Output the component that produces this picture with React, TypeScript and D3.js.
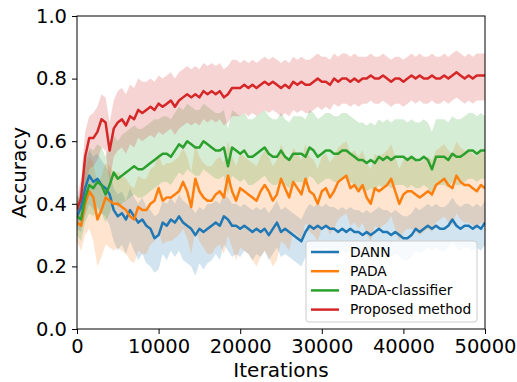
import React, { useEffect, useRef } from 'react'
import * as d3 from 'd3'

// iterations sampled every 500 steps, 0..50000
const iterations: number[] = d3.range(0, 50001, 500)

const seriesNames = ['DANN', 'PADA', 'PADA-classifier', 'Proposed method']
const seriesColors = ['#1f77b4', '#ff7f0e', '#2ca02c', '#d62728']
const xTicks = [0, 10000, 20000, 30000, 40000, 50000]
const yTicks = [0, 0.2, 0.4, 0.6, 0.8, 1.0]

const dannMean = [
  0.36, 0.39, 0.45, 0.49, 0.47, 0.48, 0.46, 0.45, 0.43, 0.38,
  0.36, 0.37, 0.35, 0.38, 0.36, 0.34, 0.35, 0.33, 0.32, 0.29,
  0.30, 0.34, 0.33, 0.35, 0.34, 0.36, 0.34, 0.33, 0.32, 0.30,
  0.32, 0.31, 0.32, 0.33, 0.34, 0.33, 0.36, 0.35, 0.33, 0.33,
  0.32, 0.33, 0.32, 0.31, 0.32, 0.31, 0.32, 0.30, 0.32, 0.34,
  0.31, 0.32, 0.31, 0.30, 0.29, 0.28, 0.31, 0.33, 0.32, 0.33,
  0.32, 0.33, 0.32, 0.32, 0.31, 0.32, 0.31, 0.32, 0.31, 0.31,
  0.30, 0.31, 0.30, 0.31, 0.32, 0.31, 0.31, 0.30, 0.31, 0.30,
  0.29, 0.29, 0.30, 0.32, 0.31, 0.32, 0.33, 0.32, 0.33, 0.32,
  0.32, 0.33, 0.35, 0.33, 0.32, 0.33, 0.33, 0.32, 0.33, 0.32,
  0.34,
]
const dannHi = [
  0.40, 0.46, 0.53, 0.57, 0.55, 0.56, 0.54, 0.52, 0.50, 0.45,
  0.43, 0.44, 0.41, 0.45, 0.42, 0.40, 0.42, 0.39, 0.38, 0.36,
  0.37, 0.41, 0.40, 0.42, 0.40, 0.43, 0.41, 0.40, 0.39, 0.37,
  0.39, 0.38, 0.40, 0.40, 0.41, 0.40, 0.43, 0.42, 0.40, 0.40,
  0.39, 0.40, 0.39, 0.38, 0.39, 0.38, 0.39, 0.37, 0.39, 0.41,
  0.38, 0.39, 0.38, 0.37, 0.36, 0.35, 0.38, 0.40, 0.39, 0.40,
  0.39, 0.40, 0.39, 0.39, 0.38, 0.39, 0.38, 0.39, 0.38, 0.38,
  0.37, 0.38, 0.37, 0.38, 0.39, 0.38, 0.38, 0.37, 0.38, 0.37,
  0.36, 0.36, 0.37, 0.39, 0.38, 0.39, 0.40, 0.39, 0.40, 0.39,
  0.39, 0.40, 0.42, 0.40, 0.39, 0.40, 0.40, 0.39, 0.40, 0.39,
  0.41,
]
const dannLo = [
  0.32, 0.31, 0.36, 0.40, 0.38, 0.39, 0.37, 0.36, 0.33, 0.28,
  0.25, 0.27, 0.24, 0.28, 0.25, 0.22, 0.24, 0.21, 0.20, 0.18,
  0.19, 0.24, 0.22, 0.25, 0.23, 0.25, 0.22, 0.21, 0.20, 0.17,
  0.21, 0.19, 0.21, 0.22, 0.24, 0.22, 0.27, 0.25, 0.23, 0.24,
  0.23, 0.25, 0.24, 0.22, 0.24, 0.23, 0.25, 0.22, 0.24, 0.26,
  0.23, 0.24, 0.23, 0.22, 0.21, 0.20, 0.23, 0.26, 0.25, 0.26,
  0.25, 0.26, 0.25, 0.24, 0.23, 0.25, 0.24, 0.25, 0.24, 0.24,
  0.23, 0.24, 0.23, 0.24, 0.25, 0.24, 0.24, 0.23, 0.24, 0.23,
  0.22, 0.22, 0.23, 0.25, 0.24, 0.25, 0.26, 0.25, 0.26, 0.25,
  0.25, 0.26, 0.28, 0.26, 0.25, 0.26, 0.26, 0.25, 0.26, 0.25,
  0.27,
]

const padaMean = [
  0.34, 0.33, 0.40, 0.44, 0.42, 0.35, 0.38, 0.42, 0.41, 0.40,
  0.40, 0.39, 0.38, 0.36, 0.35, 0.39, 0.38, 0.38, 0.40, 0.41,
  0.45, 0.41, 0.42, 0.42, 0.43, 0.44, 0.47, 0.44, 0.39, 0.48,
  0.44, 0.42, 0.41, 0.41, 0.43, 0.44, 0.42, 0.49, 0.44, 0.41,
  0.45, 0.44, 0.43, 0.42, 0.41, 0.44, 0.46, 0.44, 0.41, 0.43,
  0.48, 0.45, 0.42, 0.47, 0.45, 0.43, 0.48, 0.44, 0.43, 0.40,
  0.44, 0.45, 0.42, 0.44, 0.47, 0.48, 0.49, 0.45, 0.46, 0.44,
  0.46, 0.42, 0.40, 0.45, 0.44, 0.45, 0.46, 0.48, 0.44, 0.40,
  0.43, 0.44, 0.44, 0.43, 0.42, 0.43, 0.44, 0.43, 0.46, 0.47,
  0.48, 0.46, 0.45, 0.49, 0.47, 0.46, 0.46, 0.45, 0.44, 0.46,
  0.45,
]
const padaHi = [
  0.40, 0.42, 0.50, 0.55, 0.53, 0.46, 0.49, 0.53, 0.52, 0.50,
  0.50, 0.49, 0.48, 0.46, 0.45, 0.49, 0.48, 0.48, 0.51, 0.52,
  0.56, 0.52, 0.53, 0.53, 0.54, 0.55, 0.58, 0.55, 0.50, 0.59,
  0.55, 0.53, 0.52, 0.52, 0.54, 0.55, 0.53, 0.60, 0.55, 0.52,
  0.56, 0.55, 0.54, 0.53, 0.52, 0.55, 0.57, 0.55, 0.52, 0.54,
  0.59, 0.56, 0.53, 0.58, 0.56, 0.54, 0.59, 0.55, 0.54, 0.51,
  0.55, 0.56, 0.53, 0.55, 0.58, 0.59, 0.60, 0.56, 0.57, 0.55,
  0.57, 0.53, 0.51, 0.56, 0.55, 0.56, 0.57, 0.59, 0.55, 0.51,
  0.54, 0.55, 0.55, 0.54, 0.53, 0.54, 0.55, 0.54, 0.57, 0.58,
  0.59, 0.57, 0.56, 0.60, 0.58, 0.57, 0.57, 0.56, 0.55, 0.57,
  0.56,
]
const padaLo = [
  0.28, 0.25, 0.30, 0.32, 0.28, 0.20, 0.23, 0.27, 0.26, 0.25,
  0.26, 0.25, 0.24, 0.22, 0.21, 0.25, 0.24, 0.24, 0.27, 0.28,
  0.31, 0.27, 0.28, 0.28, 0.29, 0.30, 0.32, 0.29, 0.24, 0.32,
  0.28, 0.26, 0.24, 0.24, 0.26, 0.27, 0.24, 0.30, 0.26, 0.22,
  0.26, 0.25, 0.24, 0.22, 0.20, 0.23, 0.25, 0.23, 0.20, 0.22,
  0.28, 0.27, 0.25, 0.31, 0.30, 0.28, 0.34, 0.31, 0.30, 0.28,
  0.32, 0.33, 0.30, 0.32, 0.35, 0.36, 0.37, 0.33, 0.34, 0.32,
  0.34, 0.30, 0.28, 0.33, 0.32, 0.33, 0.34, 0.36, 0.32, 0.28,
  0.31, 0.32, 0.32, 0.31, 0.30, 0.31, 0.32, 0.31, 0.34, 0.35,
  0.36, 0.34, 0.33, 0.37, 0.35, 0.34, 0.34, 0.33, 0.32, 0.34,
  0.33,
]

const clsMean = [
  0.36, 0.35, 0.42, 0.46, 0.45, 0.47, 0.46, 0.43, 0.46, 0.50,
  0.48, 0.49, 0.50, 0.51, 0.52, 0.51, 0.51, 0.52, 0.53, 0.54,
  0.55, 0.56, 0.56, 0.55, 0.57, 0.59, 0.58, 0.60, 0.59, 0.58,
  0.58, 0.60, 0.59, 0.58, 0.57, 0.57, 0.58, 0.52, 0.58, 0.57,
  0.56, 0.57, 0.55, 0.55, 0.56, 0.57, 0.58, 0.56, 0.55, 0.55,
  0.57, 0.55, 0.54, 0.56, 0.56, 0.56, 0.55, 0.58, 0.57, 0.55,
  0.56, 0.57, 0.57, 0.56, 0.56, 0.57, 0.57, 0.56, 0.55, 0.54,
  0.54, 0.53, 0.54, 0.53, 0.55, 0.54, 0.55, 0.54, 0.55, 0.55,
  0.55, 0.54, 0.55, 0.54, 0.54, 0.55, 0.54, 0.51, 0.55, 0.55,
  0.55, 0.54, 0.56, 0.55, 0.55, 0.56, 0.57, 0.57, 0.56, 0.57,
  0.57,
]
const clsHi = [
  0.42, 0.43, 0.53, 0.58, 0.57, 0.59, 0.58, 0.55, 0.58, 0.62,
  0.60, 0.62, 0.63, 0.64, 0.65, 0.64, 0.64, 0.65, 0.66, 0.67,
  0.67, 0.68, 0.68, 0.67, 0.69, 0.71, 0.70, 0.72, 0.71, 0.70,
  0.70, 0.72, 0.71, 0.70, 0.69, 0.69, 0.70, 0.64, 0.70, 0.69,
  0.68, 0.69, 0.67, 0.67, 0.68, 0.69, 0.70, 0.68, 0.67, 0.67,
  0.69, 0.67, 0.66, 0.68, 0.68, 0.68, 0.67, 0.70, 0.69, 0.67,
  0.68, 0.69, 0.69, 0.68, 0.68, 0.69, 0.69, 0.68, 0.67, 0.66,
  0.66, 0.65, 0.66, 0.65, 0.67, 0.66, 0.67, 0.66, 0.67, 0.67,
  0.67, 0.66, 0.67, 0.66, 0.66, 0.67, 0.66, 0.63, 0.67, 0.67,
  0.67, 0.66, 0.68, 0.67, 0.67, 0.68, 0.69, 0.69, 0.68, 0.69,
  0.68,
]
const clsLo = [
  0.30, 0.28, 0.34, 0.37, 0.36, 0.38, 0.37, 0.34, 0.37, 0.41,
  0.39, 0.40, 0.41, 0.42, 0.43, 0.42, 0.42, 0.43, 0.44, 0.45,
  0.46, 0.47, 0.47, 0.46, 0.48, 0.50, 0.49, 0.51, 0.50, 0.49,
  0.49, 0.51, 0.50, 0.49, 0.48, 0.48, 0.49, 0.43, 0.49, 0.48,
  0.47, 0.48, 0.46, 0.46, 0.47, 0.48, 0.49, 0.47, 0.46, 0.46,
  0.48, 0.46, 0.45, 0.47, 0.47, 0.47, 0.46, 0.49, 0.48, 0.46,
  0.47, 0.48, 0.48, 0.47, 0.47, 0.48, 0.48, 0.47, 0.46, 0.45,
  0.45, 0.44, 0.45, 0.44, 0.46, 0.45, 0.46, 0.45, 0.46, 0.46,
  0.46, 0.45, 0.46, 0.45, 0.45, 0.46, 0.45, 0.42, 0.46, 0.46,
  0.46, 0.45, 0.47, 0.46, 0.46, 0.47, 0.48, 0.48, 0.47, 0.48,
  0.48,
]

const propMean = [
  0.38, 0.42, 0.55, 0.61, 0.61, 0.63, 0.67, 0.66, 0.57, 0.64,
  0.66, 0.67, 0.65, 0.68, 0.67, 0.70, 0.69, 0.70, 0.71, 0.70,
  0.72, 0.71, 0.72, 0.73, 0.71, 0.73, 0.74, 0.75, 0.74, 0.75,
  0.74, 0.76, 0.75, 0.76, 0.75, 0.76, 0.74, 0.75, 0.77, 0.77,
  0.77, 0.78, 0.77, 0.78, 0.77, 0.78, 0.79, 0.78, 0.79, 0.78,
  0.77, 0.78, 0.77, 0.79, 0.78, 0.79, 0.78, 0.78, 0.79, 0.80,
  0.79, 0.79, 0.78, 0.80, 0.79, 0.80, 0.80, 0.79, 0.80, 0.79,
  0.80, 0.80, 0.81, 0.80, 0.80, 0.81, 0.80, 0.79, 0.80, 0.80,
  0.79, 0.80, 0.81, 0.80, 0.81, 0.80, 0.80, 0.81, 0.80, 0.80,
  0.81, 0.80, 0.81, 0.82, 0.81, 0.80, 0.81, 0.80, 0.81, 0.81,
  0.81,
]
const propHi = [
  0.42, 0.48, 0.63, 0.68, 0.69, 0.71, 0.75, 0.74, 0.66, 0.73,
  0.76, 0.77, 0.75, 0.78, 0.77, 0.80, 0.79, 0.79, 0.80, 0.79,
  0.81, 0.80, 0.81, 0.82, 0.80, 0.82, 0.83, 0.84, 0.83, 0.84,
  0.83, 0.85, 0.84, 0.85, 0.84, 0.85, 0.83, 0.84, 0.86, 0.86,
  0.85, 0.86, 0.85, 0.86, 0.85, 0.86, 0.87, 0.86, 0.87, 0.86,
  0.85, 0.86, 0.85, 0.87, 0.86, 0.87, 0.86, 0.86, 0.87, 0.88,
  0.87, 0.87, 0.86, 0.88, 0.87, 0.88, 0.88, 0.87, 0.88, 0.87,
  0.87, 0.87, 0.88, 0.87, 0.87, 0.88, 0.87, 0.86, 0.87, 0.87,
  0.86, 0.87, 0.88, 0.87, 0.88, 0.87, 0.87, 0.88, 0.87, 0.87,
  0.88, 0.87, 0.88, 0.89, 0.88, 0.87, 0.88, 0.87, 0.88, 0.88,
  0.88,
]
const propLo = [
  0.33, 0.36, 0.45, 0.51, 0.52, 0.54, 0.58, 0.57, 0.47, 0.55,
  0.57, 0.58, 0.56, 0.59, 0.58, 0.61, 0.60, 0.61, 0.62, 0.61,
  0.63, 0.62, 0.63, 0.64, 0.62, 0.64, 0.65, 0.66, 0.65, 0.66,
  0.65, 0.67, 0.66, 0.67, 0.66, 0.67, 0.65, 0.66, 0.68, 0.68,
  0.68, 0.69, 0.68, 0.69, 0.68, 0.69, 0.70, 0.69, 0.70, 0.69,
  0.68, 0.69, 0.68, 0.70, 0.69, 0.70, 0.69, 0.69, 0.70, 0.71,
  0.70, 0.71, 0.70, 0.72, 0.71, 0.72, 0.72, 0.71, 0.72, 0.71,
  0.72, 0.72, 0.73, 0.72, 0.72, 0.73, 0.72, 0.71, 0.72, 0.72,
  0.71, 0.72, 0.73, 0.72, 0.73, 0.72, 0.72, 0.73, 0.72, 0.72,
  0.73, 0.72, 0.73, 0.74, 0.73, 0.72, 0.73, 0.72, 0.73, 0.73,
  0.73,
]

const means = [dannMean, padaMean, clsMean, propMean]
const highs = [dannHi, padaHi, clsHi, propHi]
const lows = [dannLo, padaLo, clsLo, propLo]

const W = 517
const H = 382
const margin = { left: 77, right: 32, top: 16, bottom: 53 }

export default function App() {
  const ref = useRef<SVGSVGElement>(null)

  useEffect(() => {
    const svg = d3.select(ref.current)
    svg.selectAll('*').remove()

    const x = d3.scaleLinear().domain([0, 50000]).range([margin.left, W - margin.right])
    const y = d3.scaleLinear().domain([0, 1]).range([H - margin.bottom, margin.top])

    svg.append('clipPath').attr('id', 'plot-clip')
      .append('rect')
      .attr('x', margin.left).attr('y', margin.top)
      .attr('width', W - margin.left - margin.right)
      .attr('height', H - margin.top - margin.bottom)

    const plot = svg.append('g').attr('clip-path', 'url(#plot-clip)')

    // shaded bands first, then the lines on top (matplotlib z-order)
    const area = d3.area<number>()
      .x((d, i) => x(iterations[i]))
    means.forEach((m, s) => {
      plot.append('path')
        .datum(m)
        .attr('d', area.y0((d, i) => y(lows[s][i])).y1((d, i) => y(highs[s][i])))
        .attr('fill', seriesColors[s])
        .attr('fill-opacity', 0.2)
        .attr('stroke', 'none')
    })

    const line = d3.line<number>()
      .x((d, i) => x(iterations[i]))
      .y(d => y(d))
    means.forEach((m, s) => {
      plot.append('path')
        .datum(m)
        .attr('d', line)
        .attr('fill', 'none')
        .attr('stroke', seriesColors[s])
        .attr('stroke-width', 2.5)
        .attr('stroke-linejoin', 'round')
    })

    const font = 'DejaVu Sans, sans-serif'

    const xAxis = svg.append('g')
      .attr('transform', `translate(0,${H - margin.bottom})`)
      .call(d3.axisBottom(x).tickValues(xTicks).tickSize(5).tickPadding(5).tickFormat(d3.format('d')))
    const yAxis = svg.append('g')
      .attr('transform', `translate(${margin.left},0)`)
      .call(d3.axisLeft(y).tickValues(yTicks).tickSize(5).tickPadding(5).tickFormat(d3.format('.1f')))
    ;[xAxis, yAxis].forEach(a => {
      a.select('.domain').remove()
      a.selectAll('line').attr('stroke', '#000').attr('stroke-width', 1)
      a.selectAll('text').attr('font-family', font).attr('font-size', 19.5).attr('fill', '#000')
    })

    // frame
    svg.append('rect')
      .attr('x', margin.left).attr('y', margin.top)
      .attr('width', W - margin.left - margin.right)
      .attr('height', H - margin.top - margin.bottom)
      .attr('fill', 'none').attr('stroke', '#000').attr('stroke-width', 1)

    svg.append('text')
      .attr('x', (margin.left + W - margin.right) / 2)
      .attr('y', 377)
      .attr('text-anchor', 'middle')
      .attr('font-family', font).attr('font-size', 20)
      .text('Iterations')

    svg.append('text')
      .attr('transform', `translate(26,${(margin.top + H - margin.bottom) / 2}) rotate(-90)`)
      .attr('text-anchor', 'middle')
      .attr('font-family', font).attr('font-size', 20)
      .text('Accuracy')

    // legend
    const lg = svg.append('g').attr('transform', 'translate(306,241)')
    lg.append('rect')
      .attr('width', 171).attr('height', 81)
      .attr('rx', 3)
      .attr('fill', '#fff').attr('fill-opacity', 0.8)
      .attr('stroke', '#ccc').attr('stroke-width', 1)
    seriesNames.forEach((name, i) => {
      const ry = 11 + i * 19.2
      lg.append('line')
        .attr('x1', 5).attr('x2', 33).attr('y1', ry).attr('y2', ry)
        .attr('stroke', seriesColors[i]).attr('stroke-width', 2.5)
      lg.append('text')
        .attr('x', 44).attr('y', ry).attr('dy', '0.35em')
        .attr('font-family', font).attr('font-size', 13.8)
        .text(name)
    })
  }, [])

  return (
    <div>
      <svg ref={ref} width={W} height={H} style={{ position: 'absolute', left: 0, top: 0 }}></svg>
    </div>
  )
}
